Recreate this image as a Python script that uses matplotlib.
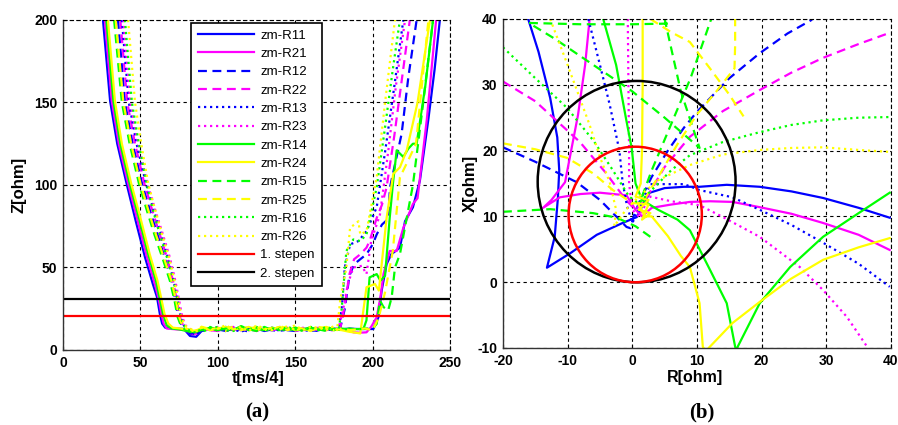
import numpy as np
import matplotlib
matplotlib.use("Agg")
import matplotlib.pyplot as plt
from matplotlib.patches import Circle

plt.rcParams['font.family'] = ['Liberation Sans', 'DejaVu Sans']
plt.rcParams['font.weight'] = 'bold'
plt.rcParams['axes.unicode_minus'] = False

names = ['zm-R11', 'zm-R21', 'zm-R12', 'zm-R22', 'zm-R13', 'zm-R23',
         'zm-R14', 'zm-R24', 'zm-R15', 'zm-R25', 'zm-R16', 'zm-R26']
colors = ['#0000ff', '#ff00ff', '#0000ff', '#ff00ff', '#0000ff', '#ff00ff',
          '#00ff00', '#ffff00', '#00ff00', '#ffff00', '#00ff00', '#ffff00']
SOLID = '-'
DASH = (0, (4, 2.5))
DOT = (0, (1, 1.7))
styles = [SOLID, SOLID, DASH, DASH, DOT, DOT, SOLID, SOLID, DASH, DASH, DOT, DOT]

# ---- (a) Z(t) ----
t_flat = [90, 95, 100, 105, 110, 115, 120, 125, 130, 135, 140, 145, 150, 155, 160, 165, 170, 175]

# descent
td_r11 = [25.8, 30.4, 35, 41, 47, 53, 58, 60.7, 62.5, 64, 66, 72, 78, 82, 86]
zd_r11 = [200, 151, 125, 101, 78, 56, 40, 32, 22, 16, 13.5, 13, 12.8, 8.5, 8]
td_r21 = [27, 31.5, 36, 42, 48, 54, 59, 61.5, 63.5, 65, 67, 73, 79, 83, 87]
zd_r21 = [200, 151, 125, 101, 79, 57, 41, 32, 22, 16, 13, 12.5, 12, 9.5, 10]
td_r12 = [35.5, 40, 45, 51, 56, 61, 66, 70, 72.5, 74.5, 76.5, 79, 82, 85, 88]
zd_r12 = [200, 150, 125, 101, 85, 70, 55, 42, 30, 20, 15, 12.5, 10, 9.5, 11]
td_r22 = [37, 41.5, 46.5, 52.5, 57.5, 62.5, 67.5, 71, 73.5, 75.5, 77.5, 80, 83, 86, 88]
zd_r22 = [200, 150, 125, 101, 85, 70, 55, 42, 30, 20, 15, 12.5, 11, 10, 11.5]
td_r13 = [38, 42.5, 47.5, 53.5, 58.5, 63.5, 68, 71.5, 74, 76, 78, 80.5, 83, 86, 88]
zd_r13 = [200, 150, 125, 101, 85, 70, 55, 42, 30, 20, 15, 12.5, 10.5, 9, 11]
td_r23 = [39, 43.5, 48.5, 54.5, 59.5, 64.5, 69, 72.5, 75, 77, 79, 81.5, 84, 86.5, 88]
zd_r23 = [200, 150, 125, 101, 85, 70, 56, 42, 30, 20, 15, 13, 11.5, 10.5, 12]
td_r14 = [28, 32.5, 37, 43, 49, 55, 60, 62.5, 64.5, 67, 70, 75, 80, 84, 88]
zd_r14 = [200, 151, 125, 101, 80, 58, 42, 31, 22, 15, 13, 12.5, 11.5, 11, 12]
td_r24 = [29, 33.5, 38, 44, 50, 56, 61, 63.5, 65.5, 68, 71, 76, 81, 84, 88]
zd_r24 = [200, 151, 125, 101, 80, 58, 42, 31, 22, 16, 13.5, 13, 12, 11.5, 12.5]
td_r15 = [33, 38, 43, 49, 54, 59, 64.5, 69, 72, 74, 76, 78.5, 82, 85, 88]
zd_r15 = [200, 150, 125, 101, 85, 70, 55, 42, 30, 20, 15, 12.5, 11, 10, 12]
td_r25 = [34, 39, 44, 50, 55, 60, 65.5, 70, 73, 75, 77, 79.5, 83, 86, 88]
zd_r25 = [200, 150, 125, 101, 85, 70, 55, 42, 30, 20, 15, 13, 12, 11, 12.5]
td_r16 = [40, 44.5, 49, 54, 58, 62.5, 67.5, 71.5, 74, 76, 78, 80, 83, 86, 88]
zd_r16 = [200, 150, 125, 101, 85, 70, 55, 42, 30, 20, 15, 13, 11, 10.5, 12]
td_r26 = [42, 46.5, 50.5, 55, 59.5, 64, 68.5, 72, 74.5, 76.5, 78.5, 81, 84, 86.5, 88]
zd_r26 = [200, 150, 125, 101, 85, 70, 56, 42, 30, 20, 15, 13.5, 12, 11.5, 13]

# flat part (fault)
zf_r11 = [12, 13, 12.5, 11.5, 13, 12, 12.5, 13, 11.5, 12.5, 13, 12, 11.5, 13, 12.5, 12, 13, 12.5]
zf_r21 = [13, 12, 13.5, 12.5, 12, 13, 12, 13.5, 12.5, 12, 13, 12.5, 13, 12, 12.5, 13.5, 12, 13]
zf_r12 = [12, 13.5, 12.5, 11.5, 13, 12.5, 11, 13, 12.5, 12, 11.5, 13, 12.5, 13, 12, 11.5, 12.5, 13]
zf_r22 = [13.5, 12, 11.5, 13, 14, 12, 12.5, 11.5, 13.5, 12.5, 12, 13.5, 11.5, 12.5, 13, 12, 13.5, 12]
zf_r13 = [11.5, 13, 12, 14, 12.5, 11, 13, 12, 12.5, 13.5, 11.5, 12.5, 13.5, 12, 11.5, 13, 12, 12.5]
zf_r23 = [13, 11.5, 14, 12, 13, 12.5, 14, 11.5, 13, 12, 14, 12.5, 12, 13.5, 12.5, 12, 13, 11.5]
zf_r14 = [12.5, 13.5, 12, 13, 12.5, 14, 12, 13, 12, 13.5, 12.5, 13, 12, 12.5, 13.5, 12.5, 13, 12]
zf_r24 = [13.5, 12, 13, 14, 12.5, 13, 14, 12, 13, 12.5, 14, 12, 13.5, 13, 12, 13, 14, 12.5]
zf_r15 = [12, 14, 11.5, 13, 12, 14.5, 12.5, 11.5, 14, 12, 13, 11.5, 13.5, 12, 14, 12.5, 11.5, 13]
zf_r25 = [14, 12.5, 13.5, 11.5, 14.5, 12, 13, 14, 12, 13.5, 12.5, 14.5, 12, 13, 11.5, 14, 13, 12]
zf_r16 = [11, 13, 14, 12, 11.5, 13.5, 12.5, 14, 11.5, 13, 12, 14, 12.5, 11.5, 13.5, 12, 14, 12.5]
zf_r26 = [14.5, 12, 13, 15, 12.5, 14, 11.5, 15, 13, 12, 14.5, 13, 15, 12, 14, 13.5, 12, 14.5]

# rise
tu_r11 = [180, 185, 190, 195, 200.4, 203.7, 205.8, 209, 212, 217.6, 220.9, 226, 230.5, 236, 240, 243.4]
zu_r11 = [12.5, 13, 12.7, 12.7, 12.7, 19.8, 36, 52, 58, 62, 78, 86.5, 102.6, 140, 170, 200]
tu_r21 = [180, 185, 187.5, 192, 196, 199, 202.6, 205, 207, 211, 215.5, 219.8, 226, 229, 235, 241]
zu_r21 = [12.5, 12, 10.7, 10.5, 10.7, 14, 19.8, 32, 46, 60, 60, 74, 88.5, 92, 140, 200]
tu_r12 = [179, 182, 185, 188, 192, 196, 200, 202.6, 206, 210, 211.2, 215, 218.7, 223, 228.4]
zu_r12 = [13, 25, 45, 52, 55, 58, 64, 70, 76, 79.4, 98.6, 115, 131, 165, 200]
tu_r22 = [179, 182, 185, 188, 192, 196, 198, 202.6, 206, 209, 214, 219, 224]
zu_r22 = [13, 27, 46, 55, 58, 62, 66, 80, 88, 98.6, 130, 165, 200]
tu_r13 = [178, 180, 182, 185.4, 190.8, 196, 202.6, 208, 214, 219.8]
zu_r13 = [13, 25, 50, 64, 66, 72, 86.5, 120, 160, 200]
tu_r23 = [178, 181, 184, 187.5, 193, 196, 199, 204.7, 210, 215, 220.9]
zu_r23 = [13, 25, 40, 50, 51, 46, 66, 82, 120, 160, 200]
tu_r14 = [180, 185, 190, 194, 196, 198, 202.6, 205, 208, 211, 213, 215.5, 219.8, 223, 226, 228.4, 234, 239]
zu_r14 = [13, 12.5, 12.7, 12.7, 18, 44, 46, 42, 45, 80, 100, 121, 117, 122, 125, 125, 160, 200]
tu_r24 = [180, 185, 189, 192, 196, 201.5, 204, 209, 213.3, 217.6, 222, 229, 237]
zu_r24 = [12, 11, 10.5, 10, 38, 40, 36, 80, 106.7, 110.7, 121, 150, 200]
tu_r15 = [180, 185, 190, 195, 200, 202.6, 204.7, 207, 210, 212.3, 214.4, 217.6, 222, 226, 232, 239]
zu_r15 = [12, 13, 12.5, 13, 13, 15.8, 30, 26, 24, 32, 50, 58, 80, 100, 145, 200]
tu_r25 = [180, 185, 190, 195, 200, 204, 208, 213, 217.6, 224, 228, 236]
zu_r25 = [13, 12, 12.5, 13, 12, 20, 35, 60, 104.6, 117, 125, 200]
tu_r16 = [178, 180, 183, 187.5, 192, 196, 202.6, 208, 213, 217.6]
zu_r16 = [12, 25, 60, 67, 66, 70, 98.6, 135, 170, 200]
tu_r26 = [177, 179, 183, 185.4, 190.8, 192, 196, 202.6, 208, 214.4]
zu_r26 = [12, 30, 50, 74, 78, 70, 72, 104.6, 150, 200]

t_down = [td_r11, td_r21, td_r12, td_r22, td_r13, td_r23, td_r14, td_r24, td_r15, td_r25, td_r16, td_r26]
z_down = [zd_r11, zd_r21, zd_r12, zd_r22, zd_r13, zd_r23, zd_r14, zd_r24, zd_r15, zd_r25, zd_r16, zd_r26]
z_flat = [zf_r11, zf_r21, zf_r12, zf_r22, zf_r13, zf_r23, zf_r14, zf_r24, zf_r15, zf_r25, zf_r16, zf_r26]
t_up = [tu_r11, tu_r21, tu_r12, tu_r22, tu_r13, tu_r23, tu_r14, tu_r24, tu_r15, tu_r25, tu_r16, tu_r26]
z_up = [zu_r11, zu_r21, zu_r12, zu_r22, zu_r13, zu_r23, zu_r14, zu_r24, zu_r15, zu_r25, zu_r16, zu_r26]

zone1 = 20.6   # 1. stepen reach
zone2 = 30.6   # 2. stepen reach
mho_angle = 87.5

# ---- (b) R-X trajectories ----
nan = np.nan
r_r11 = [-16.1, -14.5, -12.7, -11.6, -11.3, -11.5, -12, -13.2, -9.6, -5.5, -1.5, 0.7, 1.5, 2.7, 5, 8, 10.4, 14.6, 19.7, 24.6, 29.5, 35, 39.8]
x_r11 = [40, 35, 28, 22, 17, 12.9, 6.9, 2.2, 4.4, 7.2, 9.0, 9.9, 11.5, 13.6, 14.3, 14.5, 14.5, 14.8, 14.5, 13.8, 12.8, 11.3, 9.8]
r_r21 = [-6.6, -7.3, -8.4, -10.4, -12.5, -13.8, -11.2, -8, -5, -0.9, 0.5, 1.5, 3, 6, 8.9, 12, 15.5, 19.7, 24.6, 29.5, 35, 39.8]
x_r21 = [40, 33, 25.4, 15.2, 12.5, 11.3, 12.9, 13.4, 13.6, 13.2, 11, 10, 11.3, 11.8, 12.2, 12.3, 12.2, 11.4, 10.4, 9.0, 7.2, 4.9]
r_r12 = [-20, -15, -8.6, -5, -2.5, -0.9, -0.3, 0.2, 1, 3, 5.5, 8, 10, 15, 19.7, 24, 27.8]
x_r12 = [20.5, 18.3, 15.2, 12.5, 10, 8.4, 8.2, 10, 12, 16, 20, 23.5, 25.9, 31, 34.8, 37.8, 39.9]
r_r22 = [-20, -15, -8.1, -4, -1, 0.5, 2, 5, 8.9, 14, 19.7, 24.5, 29.5, 35, 39.8]
x_r22 = [30.5, 27.5, 21.3, 16.5, 12.5, 11, 12.5, 17.5, 22.1, 26, 29.2, 31.8, 34.1, 36.2, 37.9]
r_r13 = [-6.8, -5, -3.5, -2, -1.5, -0.8, 0, 1, 2.8, 8, 10.4, 15.5, 19.7, 24.6, 29.5, 35, 39.8]
x_r13 = [40, 33, 27, 20, 15.2, 11.5, 9, 11, 14.9, 14.9, 14.0, 12.9, 11.0, 8.7, 6.0, 2.8, -0.7]
r_r23 = [-0.7, -0.6, -0.5, -0.5, 0, 1, 2.8, 6, 10.4, 14, 19.7, 25.9, 29.5, 33.2, 36.3, 36.8]
x_r23 = [40, 30, 20, 15, 11, 10, 13, 12.3, 11.7, 9.9, 6.9, 2.3, -1.2, -5.3, -9.8, -10.5]
r_r14 = [-4.5, -2.5, -1, -0.1, 0.5, 1.5, 4, 7, 8.9, 12, 14.6, 15.9, 16.1, 16.3, 19.7, 24.4, 29.5, 35, 39.8]
x_r14 = [40, 33, 25, 20.4, 15, 12.5, 11, 9.5, 7.9, 1.9, -3.2, -9.8, -10.5, -9.8, -3.2, 2.3, 6.9, 10.5, 13.6]
r_r24 = [1.6, 1.6, 1.5, 1.3, 0.5, 2.5, 1, 2.8, 1.5, 2.5, 0.8, 2, 3, 5.5, 7.5, 8.9, 10.4, 10.9, 11.3, 12, 15.5, 19.7, 24.5, 29.5, 35, 39.8]
x_r24 = [40, 30, 20, 15, 13, 12.5, 11, 10.5, 9.5, 11.8, 12, 10, 10, 7, 4, 2.3, -3.2, -9.8, -10.5, -9.8, -6.2, -3.0, 0.5, 3.4, 5.3, 6.7]
r_r15 = [-20, -12.7, -6.1, -2.4, 0.5, 3.5, nan, 1.5, 3, 6, 9, 12.2, nan,
         5.5, 0, -8, -16, -12, -6, 0, 5, 10.4, 7.5, 5]
x_r15 = [10.7, 11.1, 10.5, 9.8, 8.5, 6.4, nan, 13, 17, 24, 31, 40, nan,
         39.3, 39.2, 39.2, 39.4, 37, 33, 29, 25, 20.4, 29, 40]
r_r25 = [-20, -15, -10.1, -6, -3, 0, 1.5, 4, 7, 10, 13, 15.8, 15.9, 15.9, nan, 2.8, 6, 8.9, 12, 15, 17.2]
x_r25 = [21.1, 20.2, 18.9, 16.5, 14, 12, 12, 16, 21, 25.5, 29, 32.5, 36, 40, nan, 40, 38, 36.5, 32.5, 28.5, 25.2]
r_r16 = [-20, -15, -10.1, -6, -3, -0.5, 1, 3, 6, 8.9, 14, 19.7, 24.6, 29.5, 35, 39.8]
x_r16 = [35.7, 31, 26.5, 21.5, 17, 13, 12, 14, 17, 19.3, 21.3, 22.8, 23.9, 24.6, 25, 25.1]
r_r26 = [-12.7, -10, -6.6, -5, -3.5, -2.5, -2.8, -1, 1, 4, 8.9, 14, 19.7, 24.6, 29.5, 35, 39.8]
x_r26 = [40, 33, 23.9, 19, 15.2, 11, 8.5, 11, 13, 15.5, 17.8, 19.4, 20.1, 20.4, 20.5, 20.1, 19.8]

r_all = [r_r11, r_r21, r_r12, r_r22, r_r13, r_r23, r_r14, r_r24, r_r15, r_r25, r_r16, r_r26]
x_all = [x_r11, x_r21, x_r12, x_r22, x_r13, x_r23, x_r14, x_r24, x_r15, x_r25, x_r16, x_r26]

fig = plt.figure(figsize=(8.98, 4.25), dpi=100)
ax1 = fig.add_axes([0.0702, 0.1765, 0.4310, 0.7765])
ax2 = fig.add_axes([0.5601, 0.1812, 0.4321, 0.7741])

def style_axes(ax):
    ax.grid(True, color='k', linestyle=(0, (3, 3)), linewidth=0.8)
    ax.set_axisbelow(True)
    for s in ['left', 'bottom']:
        ax.spines[s].set_color('#333333')
        ax.spines[s].set_linewidth(1.0)
    for s in ['top', 'right']:
        ax.spines[s].set_color('k')
        ax.spines[s].set_linewidth(0.8)
        ax.spines[s].set_linestyle((0, (3, 3)))
    ax.tick_params(direction='in', length=3, pad=4, labelsize=10)

# (a)
for i in range(len(names)):
    t = t_down[i] + t_flat + t_up[i]
    z = z_down[i] + z_flat[i] + z_up[i]
    ax1.plot(t, z, color=colors[i], linestyle=styles[i], lw=1.6, label=names[i])
ax1.axhline(zone1, color='#ff0000', lw=1.6, label='1. stepen')
ax1.axhline(zone2, color='k', lw=1.6, label='2. stepen')
ax1.set_xlim(0, 250)
ax1.set_ylim(0, 200)
ax1.set_xticks([0, 50, 100, 150, 200, 250])
ax1.set_yticks([0, 50, 100, 150, 200])
style_axes(ax1)
ax1.set_xlabel('t[ms/4]', fontsize=11.5, fontweight='bold')
ax1.set_ylabel('Z[ohm]', fontsize=12, fontweight='bold')
ax1.xaxis.set_label_coords(0.504, -0.085)
ax1.yaxis.set_label_coords(-0.115, 0.5)
ax1.xaxis.label.set_va('center')
ax1.yaxis.label.set_va('center')
leg = ax1.legend(loc='upper left', bbox_to_anchor=(0.331, 0.991), borderaxespad=0,
                 prop={'size': 9.5, 'weight': 'normal'}, handlelength=4.3,
                 handletextpad=0.45, labelspacing=0.46,
                 borderpad=0.5, fancybox=False, framealpha=1, edgecolor='k')
leg.get_frame().set_linewidth(1.2)

# (b)
for i in range(len(names)):
    ax2.plot(r_all[i], x_all[i], color=colors[i], linestyle=styles[i], lw=1.6)
phi = np.deg2rad(mho_angle)
for reach, col in [(zone2, 'k'), (zone1, '#ff0000')]:
    c = (reach / 2 * np.cos(phi), reach / 2 * np.sin(phi))
    ax2.add_patch(Circle(c, reach / 2, fill=False, edgecolor=col, lw=1.8, zorder=5))
ax2.set_xlim(-20, 40)
ax2.set_ylim(-10, 40)
ax2.set_xticks([-20, -10, 0, 10, 20, 30, 40])
ax2.set_yticks([-10, 0, 10, 20, 30, 40])
style_axes(ax2)
ax2.set_xlabel('R[ohm]', fontsize=11.5, fontweight='bold')
ax2.set_ylabel('X[ohm]', fontsize=12, fontweight='bold')
ax2.xaxis.set_label_coords(0.495, -0.091)
ax2.yaxis.set_label_coords(-0.085, 0.5)
ax2.xaxis.label.set_va('center')
ax2.yaxis.label.set_va('center')

fig.text(257 / 898, 1 - 412 / 425, '(a)', fontsize=15, fontweight='bold',
         family=['Liberation Serif', 'DejaVu Serif'], ha='center', va='center')
fig.text(702 / 898, 1 - 412 / 425, '(b)', fontsize=15, fontweight='bold',
         family=['Liberation Serif', 'DejaVu Serif'], ha='center', va='center')

fig.savefig('out.png', dpi=100)
